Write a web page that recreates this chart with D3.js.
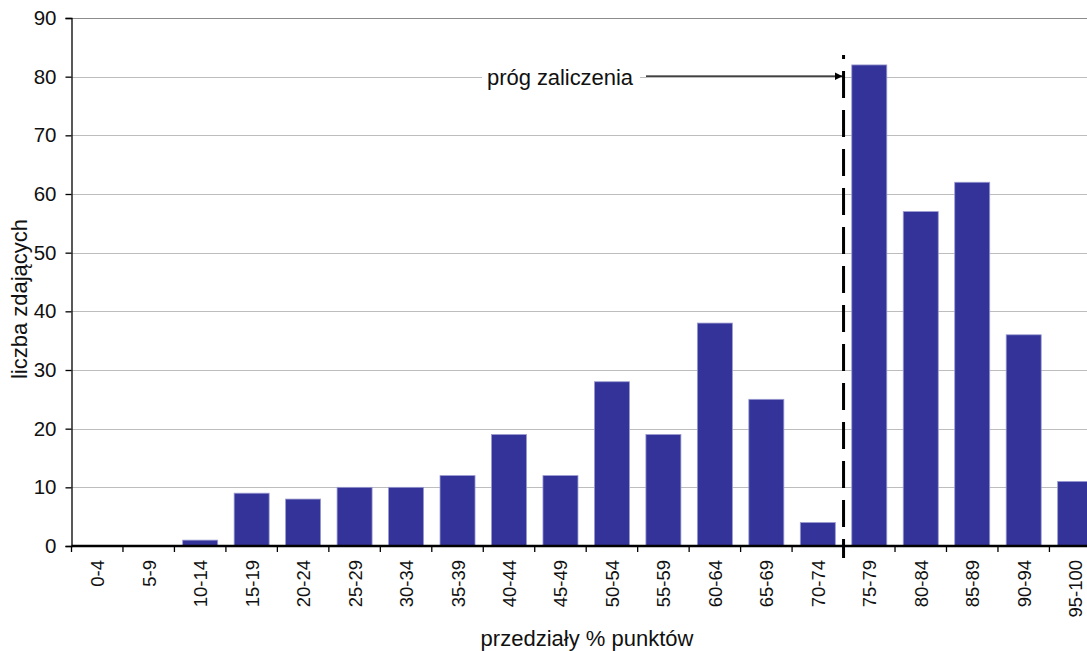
<!DOCTYPE html>
<html>
<head>
<meta charset="utf-8">
<script src="https://cdn.jsdelivr.net/npm/d3@7"></script>
<style>
  body { margin: 0; background: #fff; }
  svg { display: block; font-family: "Liberation Sans", Arial, sans-serif; }
</style>
</head>
<body>
<div class="graph"></div>
<script>
const categories = ["0-4", "5-9", "10-14", "15-19", "20-24", "25-29", "30-34", "35-39", "40-44", "45-49",
    "50-54", "55-59", "60-64", "65-69", "70-74", "75-79", "80-84", "85-89", "90-94", "95-100"];
const counts = [0, 0, 1, 9, 8, 10, 10, 12, 19, 12, 28, 19, 38, 25, 4, 82, 57, 62, 36, 11];
const yTicks = [0, 10, 20, 30, 40, 50, 60, 70, 80, 90];
const thresholdCategory = "75-79";
const thresholdLabel = "próg zaliczenia";
const xTitle = "przedziały % punktów";
const yTitle = "liczba zdających";

const width = 1087;
const height = 651;
const plotLeft = 71.5;
const plotTop = 18;
const plotBottom = 546;
const bandStep = 51.47;

const svg = d3.select(".graph")
        .append("svg")
        .attr("width", width)
        .attr("height", height);

const x = d3.scaleBand()
        .domain(categories)
        .range([plotLeft, plotLeft + bandStep * categories.length])
        .paddingInner(0.32)
        .paddingOuter(0.16);

const y = d3.scaleLinear()
        .domain([0, 90])
        .range([plotBottom, plotTop]);

// gridlines
svg.append("g")
        .selectAll("line")
        .data(yTicks.filter(d => d > 0)).enter()
        .append("line")
        .attr("x1", plotLeft)
        .attr("x2", width)
        .attr("y1", d => Math.round(y(d)) + 0.5)
        .attr("y2", d => Math.round(y(d)) + 0.5)
        .attr("stroke", d => d === 90 ? "#8c8c8c" : "#bdbdbd")
        .attr("stroke-width", 1.2);

// bars
svg.append("g")
        .selectAll("rect")
        .data(categories).enter()
        .append("rect")
        .attr("x", d => x(d))
        .attr("width", x.bandwidth())
        .attr("y", (d, i) => y(counts[i]))
        .attr("height", (d, i) => y(0) - y(counts[i]))
        .attr("fill", "#333399")
        .attr("stroke", "#9a9ad0")
        .attr("stroke-width", 0.8);

// y axis
const yAxis = svg.append("g")
        .attr("transform", `translate(${plotLeft},0)`)
        .call(d3.axisLeft(y).tickValues(yTicks).tickSize(6).tickPadding(9));
yAxis.select(".domain").attr("stroke", "#000").attr("stroke-width", 1.3);
yAxis.selectAll(".tick line").attr("stroke", "#000").attr("stroke-width", 1.3);
yAxis.selectAll(".tick text")
        .attr("font-size", 20.5)
        .attr("font-family", "Liberation Sans, Arial, sans-serif")
        .attr("fill", "#111");

// x axis: ticks at band boundaries
const boundaries = categories.map(c => x(c) - x.step() * x.paddingInner() / 2);
const xAxisG = svg.append("g");
xAxisG.append("line")
        .attr("x1", plotLeft)
        .attr("x2", width)
        .attr("y1", plotBottom)
        .attr("y2", plotBottom)
        .attr("stroke", "#000")
        .attr("stroke-width", 2.5);
xAxisG.selectAll(".btick")
        .data(boundaries).enter()
        .append("line")
        .attr("x1", d => d)
        .attr("x2", d => d)
        .attr("y1", plotBottom)
        .attr("y2", plotBottom + 6)
        .attr("stroke", "#000")
        .attr("stroke-width", 1.3);
xAxisG.selectAll("text")
        .data(categories).enter()
        .append("text")
        .attr("transform", d => `translate(${x(d) + x.bandwidth() / 2 + 7},560) rotate(-90)`)
        .attr("text-anchor", "end")
        .attr("font-size", 18.5)
        .attr("fill", "#111")
        .text(d => d);

// threshold dashed line
const tx = x(thresholdCategory) - x.step() * x.paddingInner() / 2;
svg.append("line")
        .attr("x1", tx)
        .attr("x2", tx)
        .attr("y1", 55)
        .attr("y2", 558)
        .attr("stroke", "#000")
        .attr("stroke-width", 3)
        .attr("stroke-dasharray", "27,12")
        .attr("stroke-dashoffset", 23);

// arrow
const arrowY = y(80) - 0.5;
svg.append("defs").append("marker")
        .attr("id", "arrow")
        .attr("viewBox", "0 0 10 10")
        .attr("refX", 10)
        .attr("refY", 5)
        .attr("markerWidth", 8)
        .attr("markerHeight", 8)
        .attr("markerUnits", "userSpaceOnUse")
        .attr("orient", "auto")
        .append("path")
        .attr("d", "M0,0 L10,5 L0,10 z")
        .attr("fill", "#000");
svg.append("line")
        .attr("x1", 646)
        .attr("x2", tx - 1)
        .attr("y1", arrowY)
        .attr("y2", arrowY)
        .attr("stroke", "#000")
        .attr("stroke-width", 1.3)
        .attr("marker-end", "url(#arrow)");

svg.append("rect")
        .attr("x", 482)
        .attr("y", arrowY - 12)
        .attr("width", 158)
        .attr("height", 24)
        .attr("fill", "#fff");
svg.append("text")
        .attr("x", 487)
        .attr("y", 85)
        .attr("font-size", 22)
        .attr("textLength", 146)
        .attr("fill", "#111")
        .text(thresholdLabel);

// axis titles
svg.append("text")
        .attr("x", 587)
        .attr("y", 646)
        .attr("text-anchor", "middle")
        .attr("font-size", 22)
        .attr("fill", "#111")
        .text(xTitle);

svg.append("text")
        .attr("transform", "translate(27,299) rotate(-90)")
        .attr("text-anchor", "middle")
        .attr("font-size", 22)
        .attr("fill", "#111")
        .text(yTitle);
</script>
</body>
</html>
